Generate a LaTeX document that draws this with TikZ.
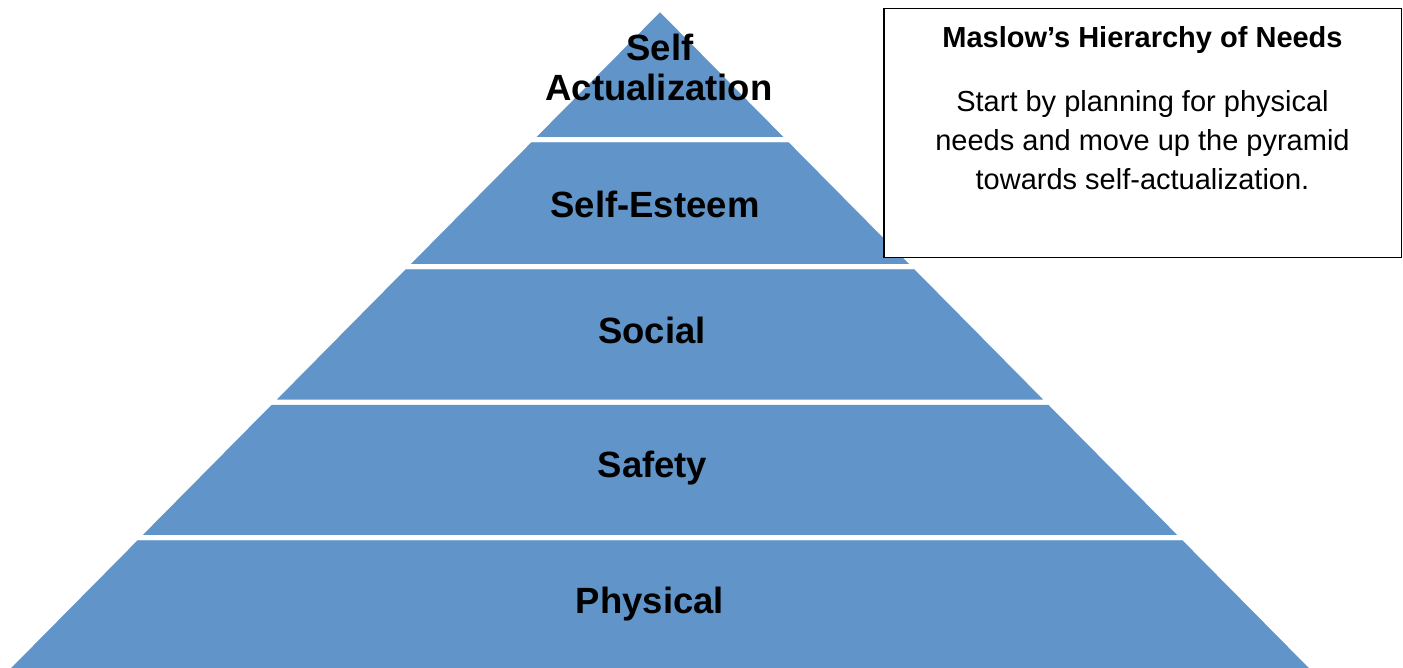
\documentclass[tikz,border=0pt]{standalone}
\usepackage{fontspec}
\setmainfont{Liberation Sans}
\definecolor{tierblue}{RGB}{97,149,201}
\tikzset{
  tier/.style={fill=tierblue, draw=white, line width=5pt, line join=miter},
  tierlabel/.style={anchor=base, inner sep=0pt, font=\bfseries\fontsize{36.5}{40}\selectfont, text=black},
  boxtitle/.style={anchor=base, inner sep=0pt, font=\bfseries\fontsize{29}{35}\selectfont},
  boxbody/.style={anchor=base, inner sep=0pt, font=\fontsize{29}{39}\selectfont},
}
\begin{document}
\begin{tikzpicture}[x=1pt,y=-1pt]
\useasboundingbox (0,0) rectangle (1403,667);
\begin{scope}
\clip (0,0) rectangle (1403,667);
% tiers, from the bottom up
\path[tier] (136.6,537.5) -- (1183.4,537.5) -- (1316.5,672) -- (3.5,672) -- cycle;
\path[tier] (270.7,402) -- (1049.3,402) -- (1183.4,537.5) -- (136.6,537.5) -- cycle;
\path[tier] (404.7,266.5) -- (915.3,266.5) -- (1049.3,402) -- (270.7,402) -- cycle;
\path[tier] (530.4,139.5) -- (789.6,139.5) -- (915.3,266.5) -- (404.7,266.5) -- cycle;
\path[tier] (660,8.5) -- (789.6,139.5) -- (530.4,139.5) -- cycle;
\end{scope}
% labels
\node[tierlabel] (sa1) at (660,60) {Self};
\node[tierlabel] (sa2) at (659,100) {Actualization};
\node[tierlabel] (esteem) at (655,217) {Self-Esteem};
\node[tierlabel] (social) at (652,343) {Social};
\node[tierlabel] (safety) at (652.5,477) {Safety};
\node[tierlabel] (physical) at (650,613) {Physical};
% text box
\draw[fill=white, draw=black, line width=1.7pt] (884,8.5) rectangle (1401.5,257.5);
\node[boxtitle] (title) at (1142.5,47) {Maslow’s Hierarchy of Needs};
\node[boxbody] (body1) at (1142.5,111) {Start by planning for physical};
\node[boxbody] (body2) at (1142.5,150) {needs and move up the pyramid};
\node[boxbody] (body3) at (1142.5,189) {towards self-actualization.};
\end{tikzpicture}
\end{document}
